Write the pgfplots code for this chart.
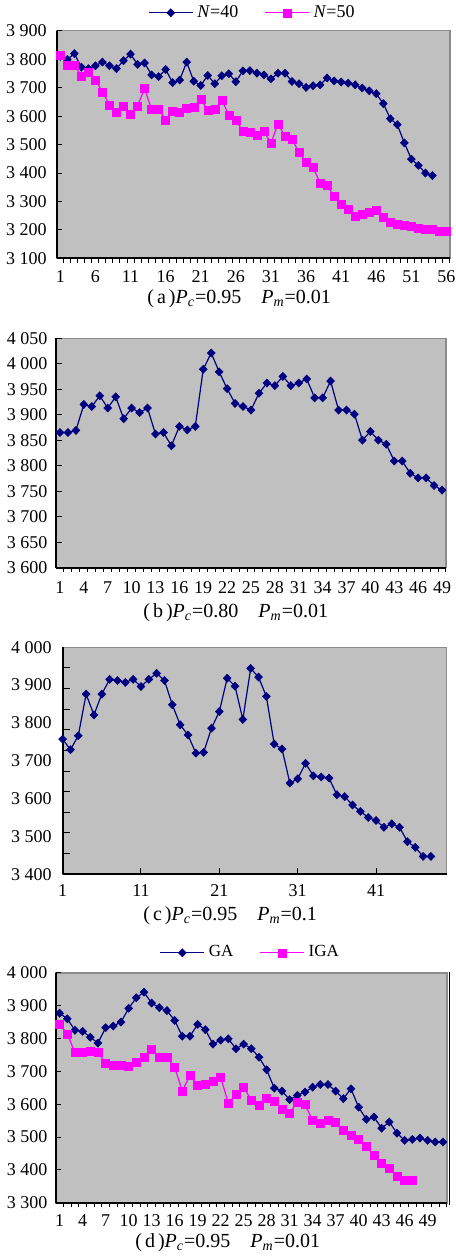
\documentclass[border=0pt]{standalone}
\usepackage{fontspec}
\setmainfont{Liberation Serif}
\usepackage{pgfplots}
\pgfplotsset{compat=1.18}
\definecolor{bg}{HTML}{C0C0C0}
\definecolor{navyb}{HTML}{000080}
\definecolor{mag}{HTML}{FF00FF}
\definecolor{framec}{HTML}{8C8C8C}

\pgfplotsset{
  panel/.style={
    scale only axis,
    axis lines*=left,
    axis line style={black, line width=0.9pt},
    axis background/.style={fill=bg, draw=framec, line width=0.7pt},
    tick pos=left,
    /pgf/number format/assume math mode=true,
    tick label style={font=\fontsize{9}{10}\selectfont, text=black},
    tick style={black, line width=0.5pt},
    major tick length=2.8pt,
    minor tick length=2.2pt,
    clip=false,
  },
  navyline/.style={navyb, line width=0.6pt, mark=diamond*, mark size=2pt,
    mark options={fill=navyb, draw=navyb, line width=0.3pt, xscale=1.3}},
  magline/.style={mag, line width=0.6pt, mark=square*, mark size=2pt,
    mark options={fill=mag, draw=mag, line width=0.2pt}},
  mylegend/.style={
    legend style={at={(0.5,1)}, anchor=center, yshift=#1, draw=none, fill=none,
      legend columns=2, /tikz/every even column/.append style={column sep=11pt}},
    legend image code/.code={\draw[mark repeat=2,mark phase=2] plot coordinates {(0pt,0pt) (11pt,0pt) (22pt,0pt)};},
  },
}

\begin{document}
\begin{tikzpicture}
\useasboundingbox (0,0) rectangle (227.5pt,-628.5pt);

% ---------------- (a) ----------------
\begin{axis}[panel, at={(28.4pt,-15.4pt)}, anchor=north west,
  width=196.6pt, height=113.8pt,
  xmin=0.5, xmax=56.5, ymin=3100, ymax=3900,
  xtick={1,6,...,56}, minor xtick={1.5,2.5,...,56.5},
  xtick align=outside, ytick align=inside,
  major x tick style={draw=none},
  ytick={3100,3200,...,3900},
  yticklabels={3 100,3 200,3 300,3 400,3 500,3 600,3 700,3 800,3 900},
  xticklabel style={yshift=0pt}, yticklabel style={xshift=-1.5pt},
  mylegend=9pt, legend style={font=\fontsize{9}{10}\selectfont},
]
\addplot[navyline] coordinates {(1,3810)(2,3799)(3,3820)(4,3772)(5,3767)(6,3777)(7,3790)(8,3777)(9,3767)(10,3795)(11,3818)(12,3782)(13,3787)(14,3745)(15,3739)(16,3764)(17,3718)(18,3727)(19,3790)(20,3723)(21,3708)(22,3743)(23,3714)(24,3742)(25,3749)(26,3721)(27,3759)(28,3760)(29,3751)(30,3745)(31,3731)(32,3751)(33,3751)(34,3722)(35,3714)(36,3701)(37,3707)(38,3710)(39,3734)(40,3724)(41,3720)(42,3716)(43,3710)(44,3699)(45,3689)(46,3679)(47,3644)(48,3591)(49,3570)(50,3506)(51,3449)(52,3427)(53,3400)(54,3391)};
\addlegendentry{\textit{N}=40}
\addplot[magline] coordinates {(1,3815)(2,3779)(3,3779)(4,3742)(5,3753)(6,3728)(7,3685)(8,3640)(9,3613)(10,3636)(11,3608)(12,3636)(13,3697)(14,3624)(15,3624)(16,3587)(17,3618)(18,3614)(19,3627)(20,3632)(21,3661)(22,3620)(23,3624)(24,3656)(25,3605)(26,3587)(27,3546)(28,3542)(29,3534)(30,3547)(31,3505)(32,3573)(33,3529)(34,3520)(35,3472)(36,3437)(37,3420)(38,3365)(39,3357)(40,3318)(41,3292)(42,3273)(43,3248)(44,3256)(45,3264)(46,3269)(47,3245)(48,3227)(49,3219)(50,3218)(51,3213)(52,3206)(53,3204)(54,3201)(55,3196)(56,3196)};
\addlegendentry{\textit{N}=50}
\end{axis}
\node[anchor=west, inner sep=0pt, font=\fontsize{10}{12}\selectfont] at (73.5pt,-149.3pt)
  {(\hspace{1.5pt}a\hspace{1.5pt})\textit{P}\textsubscript{\textit{c}}=0.95\hspace{10pt}\textit{P}\textsubscript{\textit{m}}=0.01};

% ---------------- (b) ----------------
\begin{axis}[panel, at={(28pt,-169.1pt)}, anchor=north west,
  width=195pt, height=114.7pt,
  xmin=0.5, xmax=49.5, ymin=3600, ymax=4050,
  xtick={1,4,...,49}, minor xtick={1.5,2.5,...,49.5},
  xtick align=outside, ytick align=inside,
  major x tick style={draw=none},
  ytick={3600,3650,...,4050},
  yticklabels={3 600,3 650,3 700,3 750,3 800,3 850,3 900,3 950,4 000,4 050},
  xticklabel style={yshift=-0.6pt}, yticklabel style={xshift=-0.8pt},
]
\addplot[navyline] coordinates {(1,3865)(2,3865)(3,3869)(4,3920)(5,3916)(6,3937)(7,3913)(8,3935)(9,3892)(10,3913)(11,3904)(12,3913)(13,3862)(14,3865)(15,3839)(16,3877)(17,3870)(18,3877)(19,3989)(20,4021)(21,3984)(22,3951)(23,3922)(24,3916)(25,3909)(26,3942)(27,3962)(28,3957)(29,3975)(30,3957)(31,3962)(32,3970)(33,3933)(34,3933)(35,3966)(36,3909)(37,3909)(38,3901)(39,3850)(40,3867)(41,3850)(42,3842)(43,3809)(44,3809)(45,3785)(46,3776)(47,3776)(48,3761)(49,3752)};
\end{axis}
\node[anchor=west, inner sep=0pt, font=\fontsize{10}{12}\selectfont] at (71.5pt,-306.5pt)
  {(\hspace{1.5pt}b\hspace{1.5pt})\textit{P}\textsubscript{\textit{c}}=0.80\hspace{10pt}\textit{P}\textsubscript{\textit{m}}=0.01};

% ---------------- (c) ----------------
\begin{axis}[panel, at={(31.3pt,-323.6pt)}, anchor=north west,
  width=192pt, height=113.5pt,
  xmin=1, xmax=50, ymin=3400, ymax=4000,
  xtick={1,11,21,31,41},
  xtick align=inside, ytick align=inside,
  major tick length=3pt, minor tick length=3.5pt,
  ytick={3400,3500,...,4000},
  yticklabels={3 400,3 500,3 600,3 700,3 800,3 900,4 000},
  major y tick style={draw=none},
  minor ytick={3454.55,3509.09,3563.64,3618.18,3672.73,3727.27,3781.82,3836.36,3890.91,3945.45},
  xticklabel style={yshift=-1.5pt}, yticklabel style={xshift=-2pt},
]
\addplot[navyline] coordinates {(1,3757)(2,3729)(3,3766)(4,3876)(5,3821)(6,3876)(7,3915)(8,3912)(9,3907)(10,3915)(11,3896)(12,3915)(13,3931)(14,3912)(15,3848)(16,3795)(17,3768)(18,3720)(19,3722)(20,3786)(21,3830)(22,3918)(23,3897)(24,3809)(25,3944)(26,3921)(27,3870)(28,3744)(29,3731)(30,3641)(31,3652)(32,3693)(33,3660)(34,3657)(35,3654)(36,3610)(37,3605)(38,3583)(39,3566)(40,3550)(41,3542)(42,3524)(43,3533)(44,3524)(45,3486)(46,3471)(47,3447)(48,3447)};
\end{axis}
\node[anchor=west, inner sep=0pt, font=\fontsize{10}{12}\selectfont] at (71.5pt,-457.8pt)
  {(\hspace{1.5pt}c\hspace{1.5pt})\textit{P}\textsubscript{\textit{c}}=0.95\hspace{10pt}\textit{P}\textsubscript{\textit{m}}=0.1};

% ---------------- (d) ----------------
\begin{axis}[panel, at={(27.9pt,-486.4pt)}, anchor=north west,
  width=195.5pt, height=115pt,
  xmin=0.5, xmax=51.5, ymin=3300, ymax=4000,
  xtick={1,4,...,49}, minor xtick={1.5,2.5,...,51.5},
  xtick align=outside, ytick align=inside,
  major x tick style={draw=none},
  ytick={3300,3400,...,4000},
  yticklabels={3 300,3 400,3 500,3 600,3 700,3 800,3 900,4 000},
  xticklabel style={yshift=0.5pt}, yticklabel style={xshift=-0.7pt},
  mylegend=10pt, legend style={font=\fontsize{8.5}{10}\selectfont},
]
\addplot[navyline] coordinates {(1,3877)(2,3860)(3,3825)(4,3822)(5,3804)(6,3786)(7,3833)(8,3838)(9,3850)(10,3892)(11,3924)(12,3941)(13,3908)(14,3894)(15,3885)(16,3855)(17,3807)(18,3807)(19,3843)(20,3827)(21,3783)(22,3795)(23,3799)(24,3769)(25,3783)(26,3769)(27,3743)(28,3705)(29,3649)(30,3640)(31,3614)(32,3627)(33,3637)(34,3652)(35,3660)(36,3660)(37,3640)(38,3617)(39,3647)(40,3591)(41,3554)(42,3561)(43,3527)(44,3546)(45,3512)(46,3490)(47,3493)(48,3497)(49,3490)(50,3485)(51,3485)};
\addlegendentry{GA}
\addplot[magline] coordinates {(1,3845)(2,3814)(3,3757)(4,3757)(5,3761)(6,3757)(7,3726)(8,3720)(9,3720)(10,3716)(11,3728)(12,3743)(13,3766)(14,3743)(15,3743)(16,3713)(17,3640)(18,3688)(19,3659)(20,3662)(21,3671)(22,3683)(23,3603)(24,3630)(25,3652)(26,3612)(27,3598)(28,3617)(29,3610)(30,3584)(31,3573)(32,3606)(33,3599)(34,3551)(35,3543)(36,3551)(37,3544)(38,3520)(39,3505)(40,3493)(41,3472)(42,3444)(43,3421)(44,3404)(45,3380)(46,3368)(47,3368)};
\addlegendentry{IGA}
\end{axis}
\draw[black, line width=0.6pt] (224.7pt,-485.8pt) -- (224.7pt,-602.5pt);
\node[anchor=west, inner sep=0pt, font=\fontsize{10}{12}\selectfont] at (67.5pt,-621.5pt)
  {(\hspace{1.5pt}d\hspace{1.5pt})\textit{P}\textsubscript{\textit{c}}=0.95\hspace{10pt}\textit{P}\textsubscript{\textit{m}}=0.01};
\end{tikzpicture}
\end{document}
